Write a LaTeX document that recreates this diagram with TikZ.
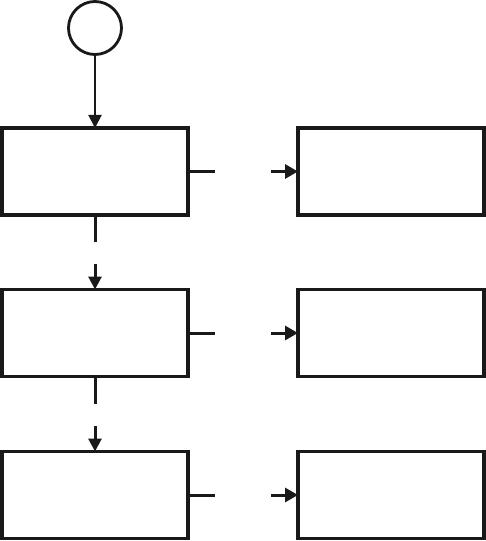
\documentclass[tikz,border=0pt]{standalone}
\usetikzlibrary{arrows.meta}
\begin{document}
\begin{tikzpicture}[x=1bp,y=-1bp,
  box/.style={draw=black!90,line width=3.2bp,rectangle,minimum width=186bp,minimum height=87bp,inner sep=0pt,outer sep=0pt},
  startc/.style={draw=black!90,line width=2.8bp,circle,minimum size=53bp,inner sep=0pt,outer sep=0pt},
  conn/.style={draw=black!90,line width=3bp},
  arr/.style={conn,-{Triangle[length=13bp,width=13bp]}},
  harr/.style={conn,-{Triangle[length=13bp,width=14bp]}}]
\useasboundingbox (0,0) rectangle (486,541);
\node[startc] (S) at (95,28) {};
\node[box] (L1) at (95,171.5) {};
\node[box] (L2) at (95,333) {};
\node[box] (L3) at (95,495) {};
\node[box] (R1) at (391,171.5) {};
\node[box] (R2) at (391,333) {};
\node[box] (R3) at (391,495) {};
\draw[arr,line width=2bp] (S) -- (L1);
% vertical broken connectors
\coordinate (v1a) at (95,242);
\coordinate (v1b) at (95,264);
\coordinate (v2a) at (95,404);
\coordinate (v2b) at (95,426);
\draw[conn] (L1.south) -- (v1a);
\draw[arr] (v1b) -- (L2.north);
\draw[conn] (L2.south) -- (v2a);
\draw[arr] (v2b) -- (L3.north);
% horizontal broken connectors
\coordinate (h1a) at (215,171.5);
\coordinate (h1b) at (271,171.5);
\coordinate (h2a) at (215,333);
\coordinate (h2b) at (271,333);
\coordinate (h3a) at (215,495);
\coordinate (h3b) at (271,495);
\draw[conn] (L1.east) -- (h1a);
\draw[harr] (h1b) -- (R1.west);
\draw[conn] (L2.east) -- (h2a);
\draw[harr] (h2b) -- (R2.west);
\draw[conn] (L3.east) -- (h3a);
\draw[harr] (h3b) -- (R3.west);
\end{tikzpicture}
\end{document}
